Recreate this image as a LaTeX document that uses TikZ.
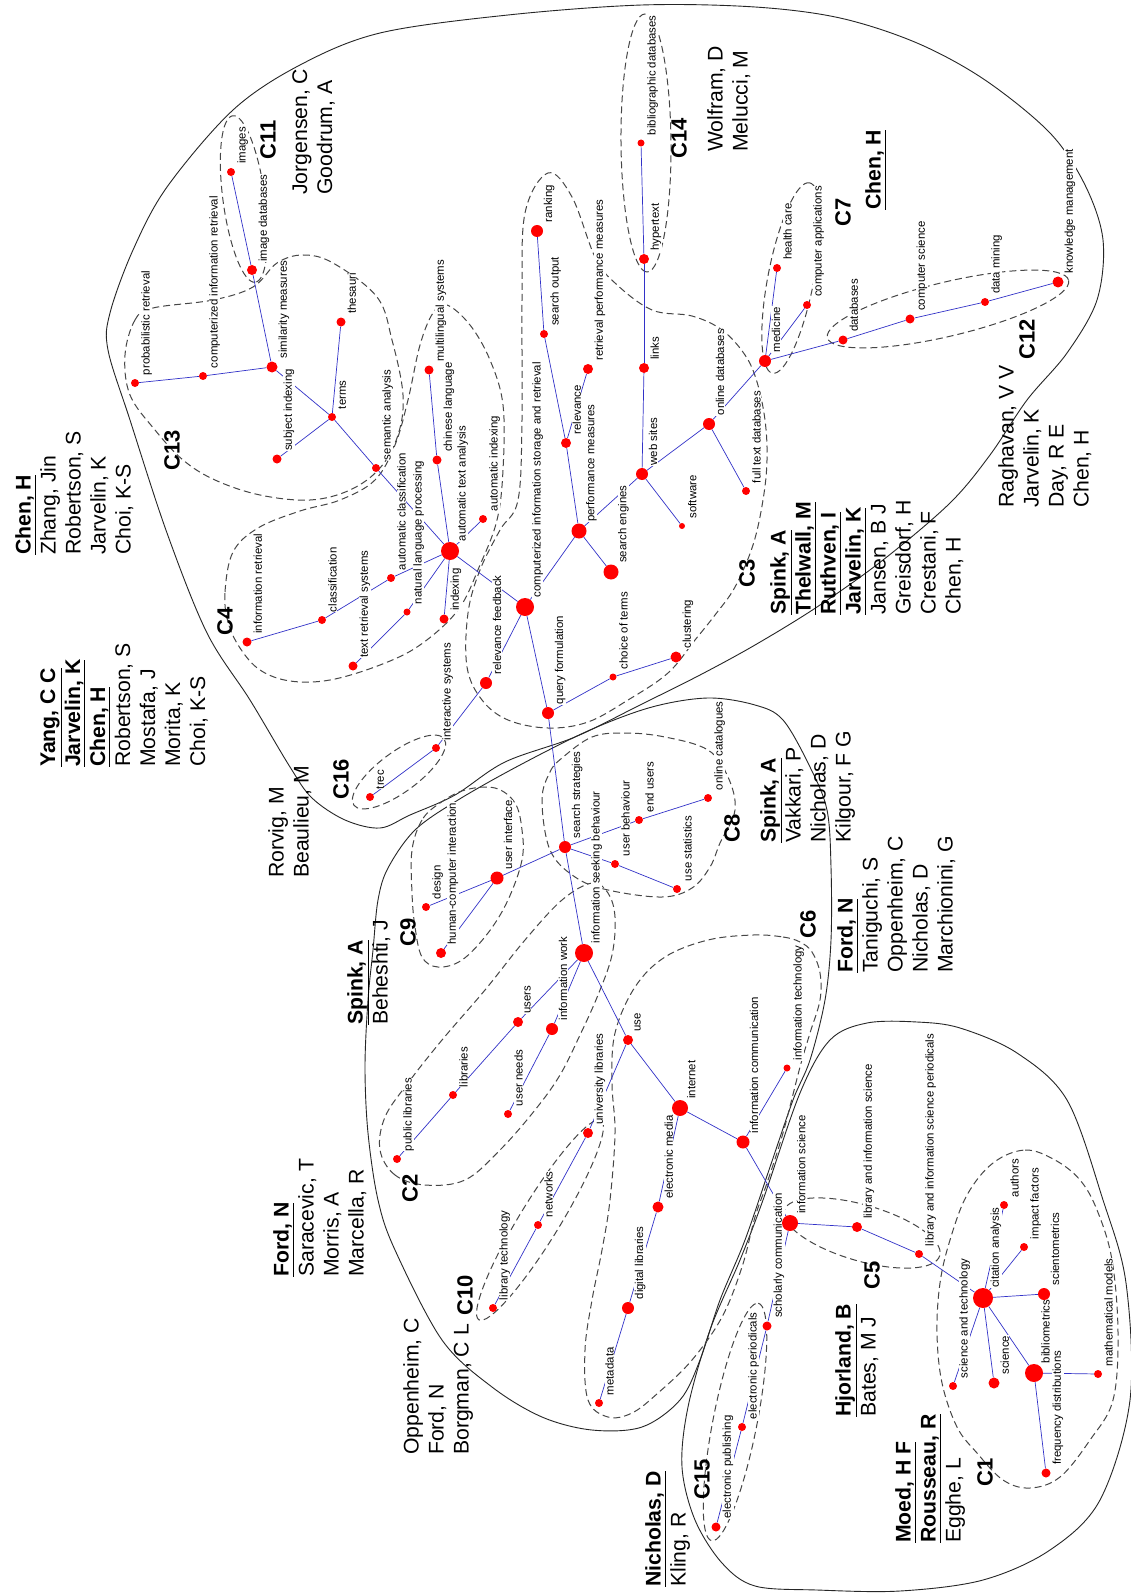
\documentclass[tikz,border=0pt]{standalone}
\usepackage{fontspec}
\setmainfont{Liberation Sans}
\usetikzlibrary{calc}
\pgfdeclarelayer{bg}
\pgfdeclarelayer{edges}
\pgfdeclarelayer{lbls}
\pgfsetlayers{bg,edges,lbls,main}
\tikzset{
  kwdot/.style={circle, fill=red, draw=none, inner sep=0pt},
  kwlbl/.style={rotate=90, anchor=north west, inner sep=0.4pt, fill=white, font=\fontsize{11.4}{12.5}\selectfont},
  kwedge/.style={draw={rgb,255:red,50;green,50;blue,200}, line width=0.7pt},
  clusterline/.style={draw={rgb,255:red,70;green,70;blue,70}, line width=1pt, dash pattern=on 7pt off 4pt},
  groupline/.style={draw=black!85, line width=0.9pt},
  clab/.style={rotate=90, font=\fontsize{22}{24}\selectfont\bfseries, inner sep=0pt},
  authors/.style={rotate=90, anchor=north west, inner sep=0pt, align=left, font=\fontsize{21.2}{25}\selectfont},
}
\newcommand\ubname[1]{\underline{\textbf{#1}}}
\newcommand\kwnode[5]{%
  \node[kwdot, minimum size=2*#4pt] (#1) at (#2,#3) {};
  \begin{pgfonlayer}{lbls}
    \node[kwlbl] (#1-t) at ($(#1.center)+(5+0.2*#4,-6-0.35*#4)$) {#5};
  \end{pgfonlayer}}
\begin{document}
\begin{tikzpicture}[x=1pt,y=-1pt]
\begin{pgfonlayer}{bg}
\fill[white] (0,0) rectangle (1131,1594);
\end{pgfonlayer}
\useasboundingbox (0,0) rectangle (1131,1594);

% ---------- keyword nodes ----------
% C11 / C13
\kwnode{img}{231}{172}{4}{images}
\kwnode{imgdb}{252}{270}{5}{image databases}
\kwnode{sim}{272}{367}{5.5}{similarity measures}
\kwnode{cir}{203}{376}{4}{computerized information retrieval}
\kwnode{prob}{135}{383}{4}{probabilistic retrieval}
\kwnode{thes}{341}{322}{4.5}{thesauri}
\kwnode{terms}{332}{417}{4}{terms}
\kwnode{subj}{277}{459}{4.5}{subject indexing}
\kwnode{sem}{376}{468}{4}{semantic analysis}
% C4
\kwnode{ir}{247}{642}{4.5}{information retrieval}
\kwnode{class}{322}{620}{4}{classification}
\kwnode{trs}{353}{666}{4.5}{text retrieval systems}
\kwnode{acl}{391}{578}{4}{automatic classification}
\kwnode{nlp}{407}{612}{3.5}{natural language processing}
\kwnode{ata}{450}{551}{9}{automatic text analysis}
\kwnode{chin}{437}{460}{4.5}{chinese language}
\kwnode{ain}{483}{519}{4}{automatic indexing}
\kwnode{idx}{444}{619}{4.5}{indexing}
\kwnode{multi}{429}{370}{4.5}{multilingual systems}
% C3 / C14 / C16
\kwnode{cisr}{525}{607}{9}{computerized information storage and retrieval}
\kwnode{rf}{486}{683}{6}{relevance feedback}
\kwnode{inter}{436}{748}{4}{interactive systems}
\kwnode{trec}{370}{797}{4}{trec}
\kwnode{qf}{548}{713}{6}{query formulation}
\kwnode{cot}{613}{677}{3.5}{choice of terms}
\kwnode{clus}{676}{657}{5.5}{clustering}
\kwnode{pm}{579}{531}{7.5}{performance measures}
\kwnode{rel}{566}{443}{5}{relevance}
\kwnode{so}{544}{334}{4}{search output}
\kwnode{rank}{537}{231}{6}{ranking}
\kwnode{rpm}{588}{369}{5}{retrieval performance measures}
\kwnode{se}{611}{572}{7.5}{search engines}
\kwnode{ws}{642}{474}{6}{web sites}
\kwnode{soft}{682}{526}{3}{software}
\kwnode{odb}{709}{424}{6}{online databases}
\kwnode{ftdb}{746}{491}{4}{full text databases}
\kwnode{links}{644}{368}{5}{links}
\kwnode{hyper}{644}{259}{5}{hypertext}
\kwnode{bibdb}{641}{143}{3.5}{bibliographic databases}
% C7 / C12
\kwnode{med}{765}{361}{6}{medicine}
\kwnode{hc}{777}{268}{4}{health care}
\kwnode{capp}{807}{305}{4}{computer applications}
\kwnode{db}{843}{340}{4.5}{databases}
\kwnode{cs}{910}{319}{4.5}{computer science}
\kwnode{dm}{985}{302}{4}{data mining}
\kwnode{km}{1058}{282}{5.5}{knowledge management}
% middle
\kwnode{ss}{565}{847}{6}{search strategies}
\kwnode{isb}{584}{953}{9}{information seeking behaviour}
\kwnode{ui}{497}{878}{6.5}{user interface}
\kwnode{design}{426}{907}{4}{design}
\kwnode{hci}{441}{953}{5}{human-computer interaction}
\kwnode{ub}{615}{864}{4}{user behaviour}
\kwnode{eu}{639}{820}{4}{end users}
\kwnode{us}{677}{889}{4}{use statistics}
\kwnode{oc}{708}{798}{4}{online catalogues}
\kwnode{users}{518}{1022}{5}{users}
\kwnode{iw}{552}{1029}{6}{information work}
\kwnode{lib}{453}{1095}{4}{libraries}
\kwnode{publib}{397}{1159}{4}{public libraries}
\kwnode{un}{508}{1114}{4}{user needs}
\kwnode{use}{628}{1040}{5}{use}
\kwnode{inet}{680}{1108}{8}{internet}
\kwnode{icomm}{743}{1142}{6.5}{information communication}
\kwnode{itech}{787}{1068}{3.5}{information technology}
\kwnode{em}{658}{1207}{5.5}{electronic media}
\kwnode{dl}{628}{1308}{6}{digital libraries}
\kwnode{meta}{599}{1403}{4}{metadata}
\kwnode{unilib}{588}{1133}{5}{university libraries}
\kwnode{net}{538}{1225}{4}{networks}
\kwnode{libtech}{493}{1308}{4}{library technology}
% bottom
\kwnode{isci}{790}{1223}{8}{information science}
\kwnode{scomm}{767}{1326}{4.5}{scholarly communication}
\kwnode{eper}{742}{1427}{4}{electronic periodicals}
\kwnode{epub}{716}{1527}{4.5}{electronic publishing}
\kwnode{lis}{857}{1227}{5}{library and information science}
\kwnode{lisp}{919}{1254}{4}{library and information science periodicals}
\kwnode{cit}{983}{1298}{10}{citation analysis}
\kwnode{auth}{1004}{1205}{4}{authors}
\kwnode{imf}{1024}{1247}{4}{impact factors}
\kwnode{scim}{1044}{1294}{6}{scientometrics}
\kwnode{biblio}{1034}{1373}{9}{bibliometrics}
\kwnode{math}{1098}{1374}{4}{mathematical models}
\kwnode{freq}{1046}{1473}{4.5}{frequency distributions}
\kwnode{sci}{994}{1383}{5.5}{science}
\kwnode{st}{953}{1386}{4}{science and technology}

% ---------- edges ----------
\begin{pgfonlayer}{edges}
\foreach \a/\b in {img/imgdb, imgdb/sim, sim/cir, cir/prob, sim/terms, thes/terms, subj/terms, terms/sem, sem/ata,
  ir/class, class/acl, acl/ata, trs/nlp, nlp/ata, idx/ata, ain/ata, chin/ata, multi/chin, ata/cisr,
  cisr/rf, rf/inter, inter/trec, cisr/qf, qf/cot, cot/clus, qf/ss, cisr/pm, pm/se, pm/rel, rel/so, so/rank, rel/rpm,
  pm/ws, ws/soft, ws/links, links/hyper, hyper/bibdb, ws/odb, odb/ftdb, odb/med, med/hc, med/capp, med/db, db/cs, cs/dm, dm/km,
  ss/isb, ss/ui, ui/hci, ui/design, ss/eu, eu/oc, ss/ub, ub/us, isb/iw, isb/users, users/lib, lib/publib, iw/un,
  isb/use, use/inet, use/unilib, unilib/net, net/libtech, inet/em, em/dl, dl/meta, inet/icomm, icomm/itech, icomm/isci,
  isci/scomm, scomm/eper, eper/epub, isci/lis, lis/lisp, lisp/cit, cit/auth, cit/imf, cit/scim, cit/biblio, cit/sci, cit/st,
  biblio/math, biblio/freq}
  \draw[kwedge] (\a) -- (\b);
\end{pgfonlayer}

% ---------- outlines ----------
\begin{pgfonlayer}{bg}
% top group
\draw[groupline] plot[smooth cycle, tension=0.55] coordinates {
(108,350) (110,313) (133,250) (167,187) (233,110) (300,65) (380,33) (508,15) (642,5) (755,7) (840,18) (917,43) (985,80) (1050,133) (1085,185) (1103,240) (1097,300) (1067,353) (1027,400) (990,455) (950,503) (883,560) (817,607) (755,645) (700,675) (640,705) (575,737) (505,762) (455,795) (410,815) (380,828) (345,820) (312,798) (290,767) (250,700) (207,633) (167,533) (130,420)};
% middle group
\draw[groupline] plot[smooth cycle, tension=0.55] coordinates {
(458,800) (520,765) (590,730) (652,707) (708,698) (755,705) (783,720) (810,767) (827,810) (831,867) (831,940) (825,1000) (810,1060) (793,1100) (770,1167) (745,1240) (720,1300) (700,1360) (680,1400) (642,1427) (592,1430) (542,1417) (492,1387) (442,1340) (395,1250) (378,1200) (368,1133) (365,1067) (368,1000) (373,950) (378,900) (388,868) (415,830)};
% bottom group
\draw[groupline] plot[smooth cycle, tension=0.55] coordinates {
(867,1023) (917,1022) (960,1028) (1017,1053) (1067,1100) (1103,1200) (1126,1283) (1130,1400) (1100,1500) (1050,1550) (983,1580) (900,1591) (817,1590) (755,1586) (722,1563) (695,1520) (682,1467) (688,1407) (710,1330) (740,1260) (763,1200) (800,1093) (830,1040)};

% dashed clusters
\draw[clusterline] plot[smooth cycle, tension=0.6] coordinates {
(125,355) (135,320) (153,308) (213,300) (253,287) (277,263) (303,255) (333,263) (377,297) (392,340) (403,395) (398,435) (380,468) (350,490) (310,500) (260,495) (215,480) (183,460) (155,430) (130,395)};
\draw[clusterline] plot[smooth cycle, tension=0.6] coordinates {
(228,622) (225,592) (233,552) (258,528) (300,511) (340,500) (375,480) (395,445) (408,400) (420,345) (433,313) (447,305) (470,325) (490,360) (503,405) (503,470) (497,520) (480,565) (458,610) (420,645) (380,665) (330,680) (290,681) (260,670) (240,648)};
\draw[clusterline] plot[smooth cycle, tension=0.6] coordinates {
(522,300) (525,213) (548,173) (572,197) (595,257) (615,283) (652,310) (692,316) (722,330) (745,355) (757,382) (765,420) (767,460) (763,500) (753,545) (735,587) (715,615) (695,640) (668,673) (628,700) (588,722) (548,728) (508,720) (482,700) (467,667) (468,613) (480,570) (500,530) (518,500) (522,420)};
\draw[clusterline] plot[smooth cycle, tension=0.6] coordinates {
(542,800) (550,772) (562,758) (592,737) (625,733) (665,737) (708,750) (728,777) (735,810) (720,843) (710,867) (692,888) (662,897) (608,890) (575,877) (550,850)};
\draw[clusterline] plot[smooth cycle, tension=0.6] coordinates {
(440,803) (422,820) (412,850) (412,893) (415,927) (422,957) (438,967) (462,960) (488,933) (508,900) (522,860) (522,830) (515,803) (495,788) (465,790)};
\draw[clusterline] plot[smooth cycle, tension=0.6] coordinates {
(425,1185) (395,1175) (380,1150) (385,1117) (408,1083) (442,1040) (485,990) (525,940) (562,900) (592,883) (608,893) (615,917) (612,955) (598,995) (580,1035) (560,1075) (535,1110) (500,1150) (465,1180)};
\draw[clusterline] plot[smooth cycle, tension=0.6] coordinates {
(753,935) (783,937) (800,942) (812,952) (820,973) (820,1000) (810,1033) (800,1067) (783,1133) (767,1183) (755,1217) (742,1267) (722,1317) (692,1360) (658,1393) (632,1413) (608,1417) (588,1400) (585,1350) (592,1300) (602,1250) (610,1200) (615,1133) (612,1083) (615,1033) (635,987) (665,957) (708,940)};
\draw[clusterline] plot[smooth cycle, tension=0.6] coordinates {
(993,1163) (1025,1150) (1055,1160) (1080,1180) (1097,1210) (1112,1260) (1118,1333) (1113,1400) (1090,1440) (1060,1477) (1030,1488) (1003,1480) (977,1453) (957,1427) (942,1383) (937,1333) (940,1283) (950,1240) (967,1195)};
% elliptic clusters
\draw[clusterline, rotate around={-82.3:(244,199)}] (244,199) ellipse [x radius=84, y radius=21];
\draw[clusterline, rotate around={-89.5:(646,143)}] (646,143) ellipse [x radius=129, y radius=25];
\draw[clusterline, rotate around={79:(791,278)}] (791,278) ellipse [x radius=97, y radius=23];
\draw[clusterline, rotate around={13.4:(948,309)}] (948,309) ellipse [x radius=124, y radius=27];
\draw[clusterline, rotate around={36.4:(399,772)}] (399,772) ellipse [x radius=56, y radius=20];
\draw[clusterline, rotate around={58.5:(540,1220)}] (540,1220) ellipse [x radius=117, y radius=20];
\draw[clusterline, rotate around={78.9:(735,1422)}] (735,1422) ellipse [x radius=121, y radius=22];
\draw[clusterline, rotate around={-16.2:(862,1233)}] (862,1233) ellipse [x radius=81, y radius=28];
\end{pgfonlayer}

% ---------- cluster labels ----------
\node[clab] (l-c11) at (268,140) {C11};
\node[clab] (l-c14) at (679,138) {C14};
\node[clab] (l-c7) at (843,212) {C7};
\node[clab] (l-c12) at (1027,339) {C12};
\node[clab] (l-c13) at (172,450) {C13};
\node[clab] (l-c4) at (225,621) {C4};
\node[clab] (l-c3) at (747,573) {C3};
\node[clab] (l-c16) at (341,779) {C16};
\node[clab] (l-c8) at (732,828) {C8};
\node[clab] (l-c9) at (408,932) {C9};
\node[clab] (l-c6) at (808,924) {C6};
\node[clab] (l-c2) at (410,1188) {C2};
\node[clab] (l-c10) at (465,1295) {C10};
\node[clab] (l-c15) at (702,1479) {C15};
\node[clab] (l-c5) at (872,1275) {C5};
\node[clab] (l-c1) at (985,1472) {C1};

% ---------- author blocks ----------
\node[authors] (a-c11) at (292,195) {Jorgensen, C\\Goodrum, A};
\node[authors] (a-c14) at (707,152) {Wolfram, D\\Melucci, M};
\node[authors] (a-c7) at (865,210) {\ubname{Chen, H}};
\node[authors] (a-c12) at (998,508) {Raghavan, V V\\Jarvelin, K\\Day, R E\\Chen, H};
\node[authors] (a-c13) at (15,555) {\ubname{Chen, H}\\Zhang, Jin\\Robertson, S\\Jarvelin, K\\Choi, K-S};
\node[authors] (a-c4) at (40,767) {\ubname{Yang, C C}\\\ubname{Jarvelin, K}\\\ubname{Chen, H}\\Robertson, S\\Mostafa, J\\Morita, K\\Choi, K-S};
\node[authors] (a-c3) at (770,615) {\ubname{Spink, A}\\\ubname{Thelwall, M}\\\ubname{Ruthven, I}\\\ubname{Jarvelin, K}\\Jansen, B J\\Greisdorf, H\\Crestani, F\\Chen, H};
\node[authors] (a-c16) at (268,878) {Rorvig, M\\Beaulieu, M};
\node[authors] (a-c8) at (760,843) {\ubname{Spink, A}\\Vakkari, P\\Nicholas, D\\Kilgour, F G};
\node[authors] (a-c9) at (347,1025) {\ubname{Spink, A}\\Beheshti, J};
\node[authors] (a-c6) at (837,973) {\ubname{Ford, N}\\Taniguchi, S\\Oppenheim, C\\Nicholas, D\\Marchionini, G};
\node[authors] (a-c2) at (273,1277) {\ubname{Ford, N}\\Saracevic, T\\Morris, A\\Marcella, R};
\node[authors] (a-c10) at (403,1455) {Oppenheim, C\\Ford, N\\Borgman, C L};
\node[authors] (a-c15) at (645,1587) {\ubname{Nicholas, D}\\Kling, R};
\node[authors] (a-c5) at (835,1417) {\ubname{Hjorland, B}\\Bates, M J};
\node[authors] (a-c1) at (895,1543) {\ubname{Moed, H F}\\\ubname{Rousseau, R}\\Egghe, L};
\end{tikzpicture}
\end{document}
